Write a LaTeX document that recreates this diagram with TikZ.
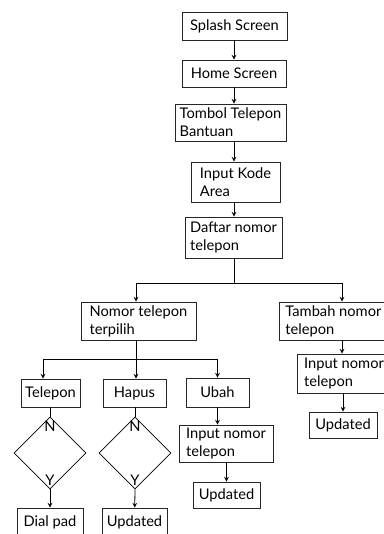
\documentclass[tikz,border=0pt]{standalone}
\usepackage{fontspec}
\setmainfont{Lato}
\usetikzlibrary{shapes.geometric, arrows, calc}
\tikzstyle{screen} = [rectangle, draw=black!85, line width=0.6pt, minimum height=20pt, align=left, inner sep=2pt, font=\fontsize{11pt}{13.4pt}\selectfont]
\tikzstyle{decision} = [diamond, draw=black, line width=0.6pt, minimum width=54pt, minimum height=54pt, inner sep=0pt]
\tikzstyle{letter} = [inner sep=0pt, font=\fontsize{11pt}{13.4pt}\selectfont]
\tikzstyle{arrow} = [line width=0.6pt,->,>=stealth]
\tikzstyle{line} = [line width=0.6pt]

\begin{document}
\begin{tikzpicture}[x=0.75pt, y=-0.75pt]
    \useasboundingbox (0,0) rectangle (384,534);
    \clip (0,0) rectangle (384,534);

    % main column
    \node (splash) [screen, minimum width=78.75pt, minimum height=21pt] at (234.5,26) {Splash Screen};
    \node (home) [screen, minimum width=78pt, minimum height=20.25pt] at (234,73.5) {Home Screen};
    \node (tombol) [screen, minimum width=83.25pt, minimum height=27.75pt] at (230.5,122.5) {Tombol Telepon\\Bantuan};
    \node (kode) [screen, minimum width=66.75pt, minimum height=30pt] at (235.5,182) {Input Kode\\Area};
    \node (daftar) [screen, minimum width=72.75pt, minimum height=30.75pt] at (233.5,237.5) {Daftar nomor\\telepon};

    \coordinate (coord0) at (234,283);
    \node (terpilih) [screen, minimum width=86.25pt, minimum height=28.5pt] at (138.5,321) {Nomor telepon\\terpilih};
    \node (tambah) [screen, anchor=west, inner xsep=4.5pt, minimum height=28.5pt] at (279,321) {Tambah nomor\\telepon};
    \coordinate (coord2) at (342,321);

    % branches of the chosen number
    \coordinate (coord1) at (136,359);
    \node (telepon) [screen, minimum width=44.25pt, minimum height=21pt] at (50.5,393) {Telepon};
    \node (hapus) [screen, minimum width=47.25pt, minimum height=21pt] at (134.5,393) {Hapus};
    \node (ubah) [screen, minimum width=47.25pt, minimum height=21.75pt] at (217.5,392.5) {Ubah};

    \node (cek_telepon) [decision] at (50,453) {};
    \node (cek_hapus) [decision] at (135,453) {};
    \node (n_telepon) [letter, anchor=north] at ($(cek_telepon.north)+(0,4)$) {N};
    \node (y_telepon) [letter, anchor=south] at ($(cek_telepon.south)+(0,-4)$) {Y};
    \node (n_hapus) [letter, anchor=north] at ($(cek_hapus.north)+(0,4)$) {N};
    \node (y_hapus) [letter, anchor=south] at ($(cek_hapus.south)+(0,-4)$) {Y};

    \node (dialpad) [screen, minimum width=49.5pt, minimum height=21pt] at (50,522) {Dial pad};
    \node (upd_hapus) [screen, minimum width=48.75pt, minimum height=21pt] at (134.5,522) {Updated};
    \node (input_ubah) [screen, minimum width=70.5pt, minimum height=27.75pt] at (226,443.5) {Input nomor\\telepon};
    \node (upd_ubah) [screen, minimum width=50.25pt, minimum height=19.5pt] at (226.5,495) {Updated};

    % add a number
    \node (input_tambah) [screen, minimum width=70.5pt, minimum height=29.25pt] at (344,373.5) {Input nomor\\telepon};
    \node (upd_tambah) [screen, minimum width=51pt, minimum height=19.5pt] at (343,425) {Updated};

    \draw [arrow] (splash.south -| home) -- (home);
    \draw [arrow] (home) -- (home |- tombol.north);
    \draw [arrow] (tombol.south -| home) -- (home |- kode.north);
    \draw [arrow] (kode.south -| home) -- (home |- daftar.north);

    \draw [line] (daftar.south -| coord0) -- (coord0);
    \draw [arrow] (coord0) -| (terpilih.north -| coord1);
    \draw [arrow] (coord0) -| (tambah.north -| coord2);

    \draw [line] (terpilih.south -| coord1) -- (coord1);
    \draw [arrow] (coord1) -| ($(telepon.north)+(-7.5,0)$);
    \draw [arrow] (coord1) -- (coord1 |- hapus.north);
    \draw [arrow] (coord1) -| (ubah);

    \draw [line] (telepon.south -| cek_telepon) -- (cek_telepon.north);
    \draw [line] (hapus.south -| cek_hapus) -- (cek_hapus.north);
    \draw [arrow] (cek_telepon.south) -- (dialpad);
    \draw [arrow] (cek_hapus.south) -- (upd_hapus);

    \draw [arrow] (ubah) -- (ubah |- input_ubah.north);
    \draw [arrow] (input_ubah.south -| upd_ubah) -- (upd_ubah);

    \draw [arrow] (tambah.south -| coord2) -- (coord2 |- input_tambah.north);
    \draw [arrow] (input_tambah.south -| upd_tambah) -- (upd_tambah);

\end{tikzpicture}
\end{document}
